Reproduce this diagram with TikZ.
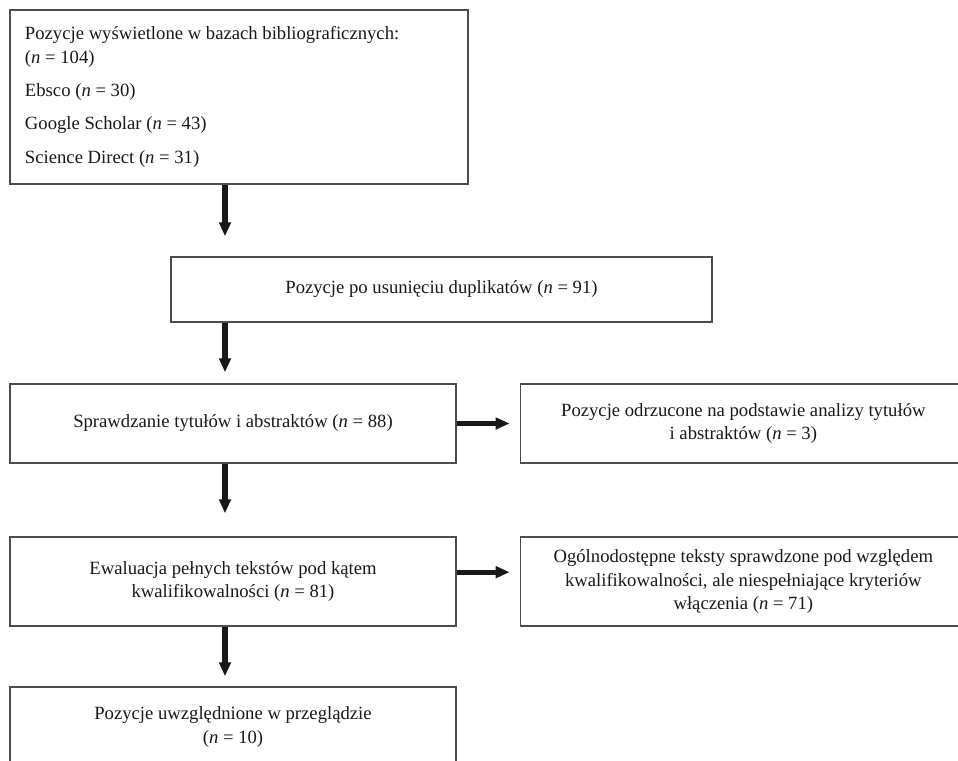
\documentclass[tikz,border=0pt]{standalone}
\usepackage{fontspec}
\setmainfont{Liberation Serif}
\usetikzlibrary{positioning,arrows.meta}

\begin{document}
\begin{tikzpicture}[x=0.75pt,y=-0.75pt,
		box/.style={rectangle,draw=black!70,line width=1pt,inner sep=0pt,align=center,
		text=black!90,font=\fontsize{14}{17.5}\selectfont},
		flow/.style={draw=black!90,line width=3.8pt,-{Triangle[width=8.5pt,length=10.5pt]}}
		]
		\clip (0,0) rectangle (958,761);
		
		\node[box, minimum width=343.5pt, minimum height=130.5pt, inner xsep=11.25pt,
		text width=321pt, align=flush left](S0) at (239,97){Pozycje wyświetlone w bazach bibliograficznych:\\
		(\textit{n} = 104)\\[7.5pt]
		Ebsco (\textit{n} = 30)\\[7.5pt]
		Google Scholar (\textit{n} = 43)\\[7.5pt]
		Science Direct (\textit{n} = 31)};
		\node[box, minimum width=405.75pt, minimum height=48.75pt](S1) at (441.5,289.5){Pozycje po usunięciu duplikatów (\textit{n} = 91)};
		\node[box, minimum width=334.5pt, minimum height=59.25pt](S3) at (233,423.5){Sprawdzanie tytułów i abstraktów (\textit{n} = 88)};
		\node[box, minimum width=334.5pt, minimum height=59.25pt, right=47.25pt of S3](S4){Pozycje odrzucone na podstawie analizy tytułów\\
		i abstraktów (\textit{n} = 3)};
		\node[box, minimum width=334.5pt, minimum height=66.75pt](S5) at (233,581.5){Ewaluacja pełnych tekstów pod kątem\\
		kwalifikowalności (\textit{n} = 81)};
		\node[box, minimum width=334.5pt, minimum height=66.75pt, right=47.25pt of S5](S6){Ogólnodostępne teksty sprawdzone pod względem\\
		kwalifikowalności, ale niespełniające kryteriów\\
		włączenia (\textit{n} = 71)};
		\node[box, minimum width=334.5pt, minimum height=60pt](S7) at (233,727){Pozycje uwzględnione w przeglądzie\\
		(\textit{n} = 10)};
		
		\coordinate (ax) at (225,0);
		\draw[flow, shorten >=15pt] (S0.south -| ax) -- (S1.north -| ax);
		\draw[flow, shorten >=8.25pt] (S1.south -| ax) -- (S3.north -| ax);
		\draw[flow, shorten >=17.25pt] (S3.south -| ax) -- (S5.north -| ax);
		\draw[flow, shorten >=7.5pt] (S5.south -| ax) -- (S7.north -| ax);
		\draw[flow, shorten >=7.5pt] (S3.east) -- (S4.west);
		\draw[flow, shorten >=7.5pt] ([yshift=7pt]S5.east) -- ([yshift=7pt]S6.west);
	\end{tikzpicture}
\end{document}
